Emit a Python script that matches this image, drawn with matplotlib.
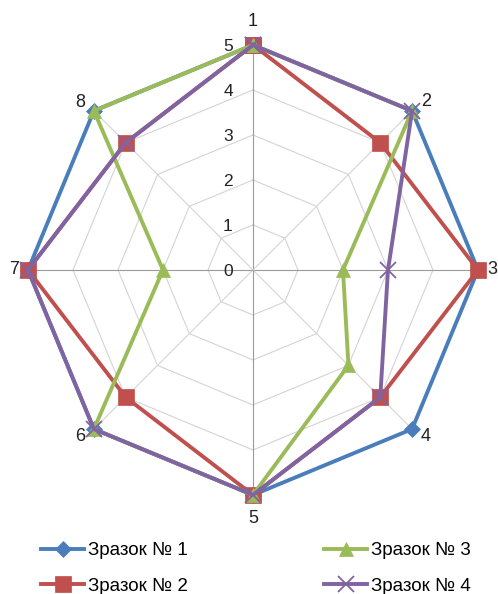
import matplotlib.pyplot as plt
import numpy as np

# Категорії (осі) та значення зразків
categorias = ['1', '2', '3', '4', '5', '6', '7', '8']
zrazok1 = [5, 5, 5, 5, 5, 5, 5, 5]
zrazok2 = [5, 4, 5, 4, 5, 4, 5, 4]
zrazok3 = [5, 5, 2, 3, 5, 5, 2, 5]
zrazok4 = [5, 5, 3, 4, 5, 5, 5, 4]
nomes = ['Зразок № 1', 'Зразок № 2', 'Зразок № 3', 'Зразок № 4']
niveis = [1, 2, 3, 4, 5]

plt.rcParams['font.family'] = ['Liberation Sans', 'DejaVu Sans']

fig = plt.figure(figsize=(4.98, 5.94), dpi=100)
ax = fig.add_axes([0.0562, 0.1667, 0.9036, 0.7576], projection='polar')
ax.set_theta_offset(np.pi / 2)
ax.set_theta_direction(-1)
ax.set_ylim(0, 5)
ax.grid(False)
ax.spines['polar'].set_visible(False)
ax.set_yticks([])
ax.set_xticks([])

n = len(categorias)
angulos = np.arange(n) * 2 * np.pi / n
fechar = np.append(angulos, angulos[0])

# grelha poligonal
for nv in niveis:
    ax.plot(fechar, [nv] * (n + 1), color='#d4d4d4', lw=0.8, zorder=1)
for i, a in enumerate(angulos):
    cor = '#9a9a9a' if i in (0, 2, 4, 6) else '#d4d4d4'
    ax.plot([a, a], [0, 5], color=cor, lw=0.8, zorder=1)

# rótulos dos valores
for v in range(0, 6):
    ax.annotate(str(v), xy=(0, v), xytext=(-18, -1), textcoords='offset points',
                ha='center', va='center', fontsize=12.5, color='#222222')

# rótulos das categorias (deslocamento em pontos)
desloc = [(0, 17), (10, 7), (10, 0), (10, -5), (0, -17), (-10, -5), (-10, 0), (-10, 6)]
for i, a in enumerate(angulos):
    ax.annotate(categorias[i], xy=(a, 5), xytext=desloc[i], textcoords='offset points',
                ha='center', va='center', fontsize=13, color='#222222', annotation_clip=False)

series = [zrazok1, zrazok2, zrazok3, zrazok4]
cores = ['#4a7ebb', '#c0504d', '#9bbb59', '#8064a2']
marcadores = ['D', 's', '^', 'x']
tamanhos = [8, 11, 10, 11]
for k in range(4):
    vals = series[k] + [series[k][0]]
    ax.plot(fechar, vals, color=cores[k], lw=2.8, marker=marcadores[k],
            markersize=tamanhos[k], markeredgewidth=1.3 if k == 3 else 0.5,
            markeredgecolor=cores[k], label=nomes[k], zorder=3 + k, clip_on=False)

fig.legend(loc='lower left', bbox_to_anchor=(0.049, -0.03), ncol=2, frameon=False,
           fontsize=13.5, handlelength=2.3, handletextpad=0.2, columnspacing=7.25,
           labelspacing=1.0)

plt.savefig('out.png', dpi=100)
